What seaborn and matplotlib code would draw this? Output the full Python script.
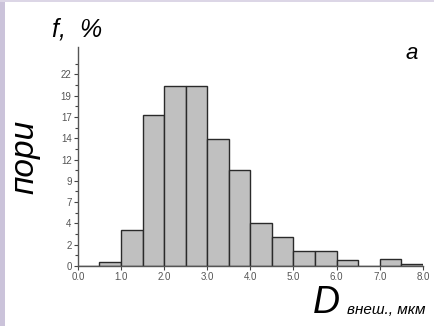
import numpy as np
import pandas as pd
import seaborn as sns
import matplotlib.pyplot as plt
import matplotlib as mpl
from matplotlib.patches import Rectangle

# pore size distribution, bins of 0.5 um
bin_edges = [0.0, 0.5, 1.0, 1.5, 2.0, 2.5, 3.0, 3.5, 4.0, 4.5, 5.0, 5.5, 6.0, 6.5, 7.0, 7.5, 8.0]
freq_pct = [0.0, 0.5, 4.15, 17.4, 20.7, 20.7, 14.6, 11.0, 5.0, 3.3, 1.75, 1.75, 0.7, 0.0, 0.8, 0.25]

x_ticks = [0, 1, 2, 3, 4, 5, 6, 7, 8]
x_ticklabels = ["0.0", "1.0", "2.0", "3.0", "4.0", "5.0", "6.0", "7.0", "8.0"]
y_step = 2.45
y_ticklabels = ["0", "2", "4", "7", "9", "12", "14", "17", "19", "22"]

sns.set_theme(style="ticks")
plt.rcParams["font.family"] = ["Liberation Sans", "DejaVu Sans"]

centers = [(a + b) / 2 for a, b in zip(bin_edges[:-1], bin_edges[1:])]
df = pd.DataFrame({"d": centers, "f": freq_pct})

fig = plt.figure(figsize=(4.35, 3.26), dpi=100)
fig.patch.set_facecolor("white")
ax = fig.add_axes([0.179, 0.184, 0.793, 0.672])

sns.histplot(
    data=df, x="d", weights="f", bins=bin_edges, ax=ax,
    color="#c0c0c0", edgecolor="#2a2a2a", linewidth=1.0, alpha=1.0,
)

ax.set_xlim(0, 8)
ax.set_ylim(0, 25.2)
ax.set_xticks(x_ticks)
ax.set_xticklabels(x_ticklabels)
ax.set_yticks([i * y_step for i in range(len(y_ticklabels))])
ax.set_yticklabels(y_ticklabels)
ax.set_yticks([y_step / 2 + i * y_step for i in range(len(y_ticklabels))], minor=True)
ax.tick_params(axis="both", colors="#444444", labelsize=7, length=3, width=0.8, pad=1.5)
ax.tick_params(axis="y", which="minor", length=2, width=0.8, color="#444444")
for lab in ax.get_xticklabels() + ax.get_yticklabels():
    lab.set_color("#555555")
ax.set_xlabel("")
ax.set_ylabel("")
sns.despine(ax=ax)
for s in ["left", "bottom"]:
    ax.spines[s].set_color("#555555")
    ax.spines[s].set_linewidth(1.0)

# labels
fig.text(0.12, 0.91, "f,  %", fontsize=18, style="italic", color="black", ha="left", va="center")
fig.text(0.058, 0.52, "пори", fontsize=24, style="italic", color="black", rotation=90, ha="center", va="center")
fig.text(0.947, 0.835, "a", fontsize=16, style="italic", color="black", ha="center", va="center")
fig.text(0.72, 0.07, "D", fontsize=27, style="italic", color="black", ha="left", va="center")
fig.text(0.797, 0.048, "внеш., мкм", fontsize=11, style="italic", color="black", ha="left", va="center")

# lavender frame strips of the original screenshot
fig.patches.append(Rectangle((0, 0), 5 / 435, 1, transform=fig.transFigure,
                             facecolor="#cbc3da", edgecolor="none", zorder=0))
fig.patches.append(Rectangle((0, 1 - 2 / 326), 1, 2 / 326, transform=fig.transFigure,
                             facecolor="#dcd6e6", edgecolor="none", zorder=0))

fig.savefig("out.png", dpi=100)
